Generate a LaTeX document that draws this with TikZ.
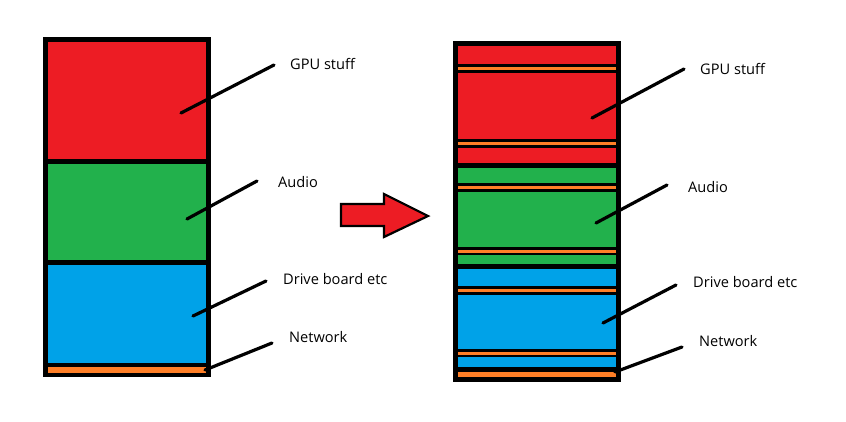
\documentclass[tikz,border=0pt]{standalone}
\usepackage{fontspec}
\setmainfont{Open Sans}
\definecolor{pred}{HTML}{ED1C24}
\definecolor{pgreen}{HTML}{22B14C}
\definecolor{pblue}{HTML}{00A2E8}
\definecolor{porange}{HTML}{FF7F27}
\tikzset{
  band/.style={fill=#1, draw=none},
  leader/.style={draw=black, line width=3.2pt, line cap=round},
  lbl/.style={anchor=west, inner sep=0pt, font=\fontsize{14.6}{17}\selectfont, text=black},
  bigarrow/.style={fill=pred, draw=black, line width=2.2pt, line join=miter}
}
\begin{document}
\begin{tikzpicture}[x=1pt,y=-1pt]
\useasboundingbox (0,0) rectangle (846,421);
\fill[white] (0,0) rectangle (846,421);
% ---------- left column ----------
\fill[black] (43,37) rectangle (211,377);
\fill[band=pred]    (48,42)  rectangle (206,159);
\fill[band=pgreen]  (48,164) rectangle (206,260);
\fill[band=pblue]   (48,265) rectangle (206,363);
\fill[band=porange] (48,367) rectangle (206,373);
% ---------- right column ----------
\fill[black] (453,41) rectangle (621,382);
\fill[band=pred]    (458,46)  rectangle (616,64);
\fill[band=porange] (458,67)  rectangle (616,70);
\fill[band=pred]    (458,73)  rectangle (616,139);
\fill[band=porange] (458,142) rectangle (616,145);
\fill[band=pred]    (458,148) rectangle (616,163);
\fill[band=pgreen]  (458,168) rectangle (616,183);
\fill[band=porange] (458,186) rectangle (616,189);
\fill[band=pgreen]  (458,192) rectangle (616,247);
\fill[band=porange] (458,249.5) rectangle (616,252.5);
\fill[band=pgreen]  (458,255) rectangle (616,264);
\fill[band=pblue]   (458,269) rectangle (616,286);
\fill[band=porange] (458,289) rectangle (616,292);
\fill[band=pblue]   (458,295) rectangle (616,349);
\fill[band=porange] (458,351.5) rectangle (616,354.5);
\fill[band=pblue]   (458,357) rectangle (616,367);
\fill[band=porange] (458,372) rectangle (616,377);
% ---------- arrow ----------
\draw[bigarrow] (341,204) -- (384,204) -- (384,194) -- (428,216) -- (384,237) -- (384,226) -- (341,226) -- cycle;
% ---------- labels left ----------
\node[lbl] (lgpu)   at (290,64)  {GPU stuff};
\node[lbl] (laudio) at (278,182) {Audio};
\node[lbl] (ldrive) at (283,279) {Drive board etc};
\node[lbl] (lnet)   at (289,337) {Network};
% ---------- labels right ----------
\node[lbl] (rgpu)   at (700,69)  {GPU stuff};
\node[lbl] (raudio) at (688,187) {Audio};
\node[lbl] (rdrive) at (693,282) {Drive board etc};
\node[lbl] (rnet)   at (699,341) {Network};
% ---------- leader coordinates ----------
\coordinate (lgpuA) at (181,113);   \coordinate (lgpuB) at (274,65);
\coordinate (laudA) at (187,219);   \coordinate (laudB) at (257,181);
\coordinate (ldrvA) at (193,316);   \coordinate (ldrvB) at (266,281);
\coordinate (lnetA) at (205,370);   \coordinate (lnetB) at (272,343);
\coordinate (rgpuA) at (592,118);   \coordinate (rgpuB) at (684,69);
\coordinate (raudA) at (596,223);   \coordinate (raudB) at (667,185);
\coordinate (rdrvA) at (603,323);   \coordinate (rdrvB) at (676,285);
\coordinate (rnetA) at (615,372);   \coordinate (rnetB) at (682,347);
\draw[leader] (lgpuA) -- (lgpuB);
\draw[leader] (laudA) -- (laudB);
\draw[leader] (ldrvA) -- (ldrvB);
\draw[leader] (lnetA) -- (lnetB);
\draw[leader] (rgpuA) -- (rgpuB);
\draw[leader] (raudA) -- (raudB);
\draw[leader] (rdrvA) -- (rdrvB);
\draw[leader] (rnetA) -- (rnetB);
\end{tikzpicture}
\end{document}
